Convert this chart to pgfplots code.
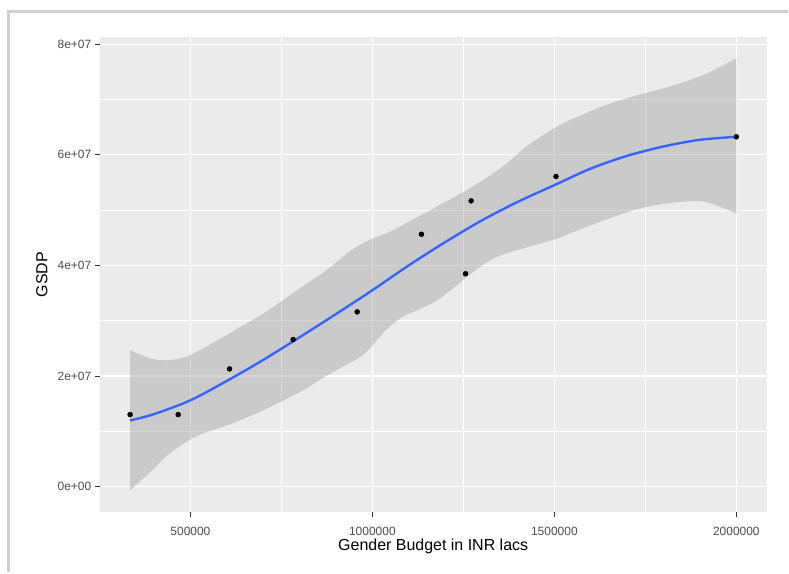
\documentclass[border=0pt]{standalone}
\usepackage{fontspec}
\setmainfont{Liberation Sans}
\usepackage{pgfplots}
\pgfplotsset{compat=1.18}
\usepgfplotslibrary{fillbetween}
\definecolor{panelbg}{HTML}{EBEBEB}
\definecolor{bandfill}{HTML}{999999}
\definecolor{smoothblue}{HTML}{3366FF}
\definecolor{ticktext}{HTML}{4D4D4D}
\definecolor{framegray}{HTML}{D0D0D0}
\begin{document}
\begin{tikzpicture}
\begin{axis}[
  scale only axis,
  width=668bp, height=476bp,
  at={(100bp,60bp)}, anchor=south west,
  xmin=251000, xmax=2083000,
  ymin=-4600000, ymax=81300000,
  scaled ticks=false,
  axis background/.style={fill=panelbg},
  axis line style={draw=none},
  tick align=outside,
  tick pos=left,
  major tick length=5bp,
  minor tick length=0bp,
  major tick style={draw=black!80, line width=0.9bp},
  xtick={500000,1000000,1500000,2000000},
  xticklabels={500000,1000000,1500000,2000000},
  ytick={0,20000000,40000000,60000000,80000000},
  yticklabels={0e+00,2e+07,4e+07,6e+07,8e+07},
  minor xtick={750000,1250000,1750000},
  minor ytick={10000000,30000000,50000000,70000000},
  grid=both,
  major grid style={white, line width=1.1bp},
  minor grid style={white, line width=0.55bp},
  xticklabel style={font=\fontsize{12bp}{14bp}\selectfont, text=ticktext, yshift=-7bp},
  yticklabel style={font=\fontsize{12bp}{14bp}\selectfont, text=ticktext},
  xlabel={Gender Budget in INR lacs},
  ylabel={GSDP},
  xlabel style={font=\fontsize{16bp}{19bp}\selectfont, at={(axis description cs:0.5,-0.0714)}, anchor=center},
  ylabel style={font=\fontsize{16bp}{19bp}\selectfont, at={(axis description cs:-0.0868,0.5)}, anchor=center, rotate=0},
]
% confidence band: upper and lower limits
\addplot[name path=upper, draw=none, smooth, forget plot] coordinates {
(334000,24650000) (391000,23150000) (436000,22840000) (482000,23350000)
(527000,24700000) (618000,28100000) (710000,31700000) (782000,35000000)
(873000,39100000) (937000,42500000) (992000,44600000) (1055000,46300000)
(1128000,48900000) (1219000,52100000) (1292000,54900000) (1365000,58200000)
(1410000,60800000) (1456000,63000000) (1500000,64800000) (1547000,66400000)
(1639000,68900000) (1730000,70800000) (1821000,72400000) (1912000,74500000)
(2000000,77400000)
};
\addplot[name path=lower, draw=none, smooth, forget plot] coordinates {
(334000,-670000) (391000,2700000) (436000,5600000) (482000,7800000)
(527000,9400000) (618000,11500000) (710000,14100000) (801000,17100000)
(873000,20000000) (930000,22100000) (964000,23300000) (992000,24900000)
(1037000,28300000) (1083000,30700000) (1130000,32100000) (1174000,33500000)
(1219000,35700000) (1265000,38200000) (1311000,40400000) (1356000,41900000)
(1447000,43700000) (1511000,44900000) (1547000,45900000) (1639000,48200000)
(1730000,50200000) (1821000,51300000) (1912000,51500000) (2000000,49400000)
};
\addplot[bandfill, fill opacity=0.4, draw=none, forget plot] fill between[of=upper and lower];
% loess fit
\addplot[smoothblue, line width=2.4bp, smooth] coordinates {
(334000,11950000) (400000,13100000) (500000,15600000) (600000,19100000)
(700000,22900000) (800000,27000000) (900000,31200000) (1000000,35500000)
(1100000,40000000) (1200000,44200000) (1300000,48100000) (1400000,51500000)
(1500000,54500000) (1600000,57500000) (1700000,59800000) (1800000,61500000)
(1900000,62700000) (2000000,63240000)
};
% observed points
\addplot[only marks, mark=*, mark size=2.5bp, black] coordinates {
(334200,13020000) (466400,13020000) (607400,21280000) (782200,26580000)
(958200,31590000) (1134700,45620000) (1256000,38480000) (1271300,51660000)
(1504600,56060000) (2000000,63240000)
};
\end{axis}
\draw[framegray, line width=3bp] (9bp,0) -- (9bp,561bp) -- (789bp,561bp);
\useasboundingbox (0,0) rectangle (789bp,573bp);
\end{tikzpicture}
\end{document}
